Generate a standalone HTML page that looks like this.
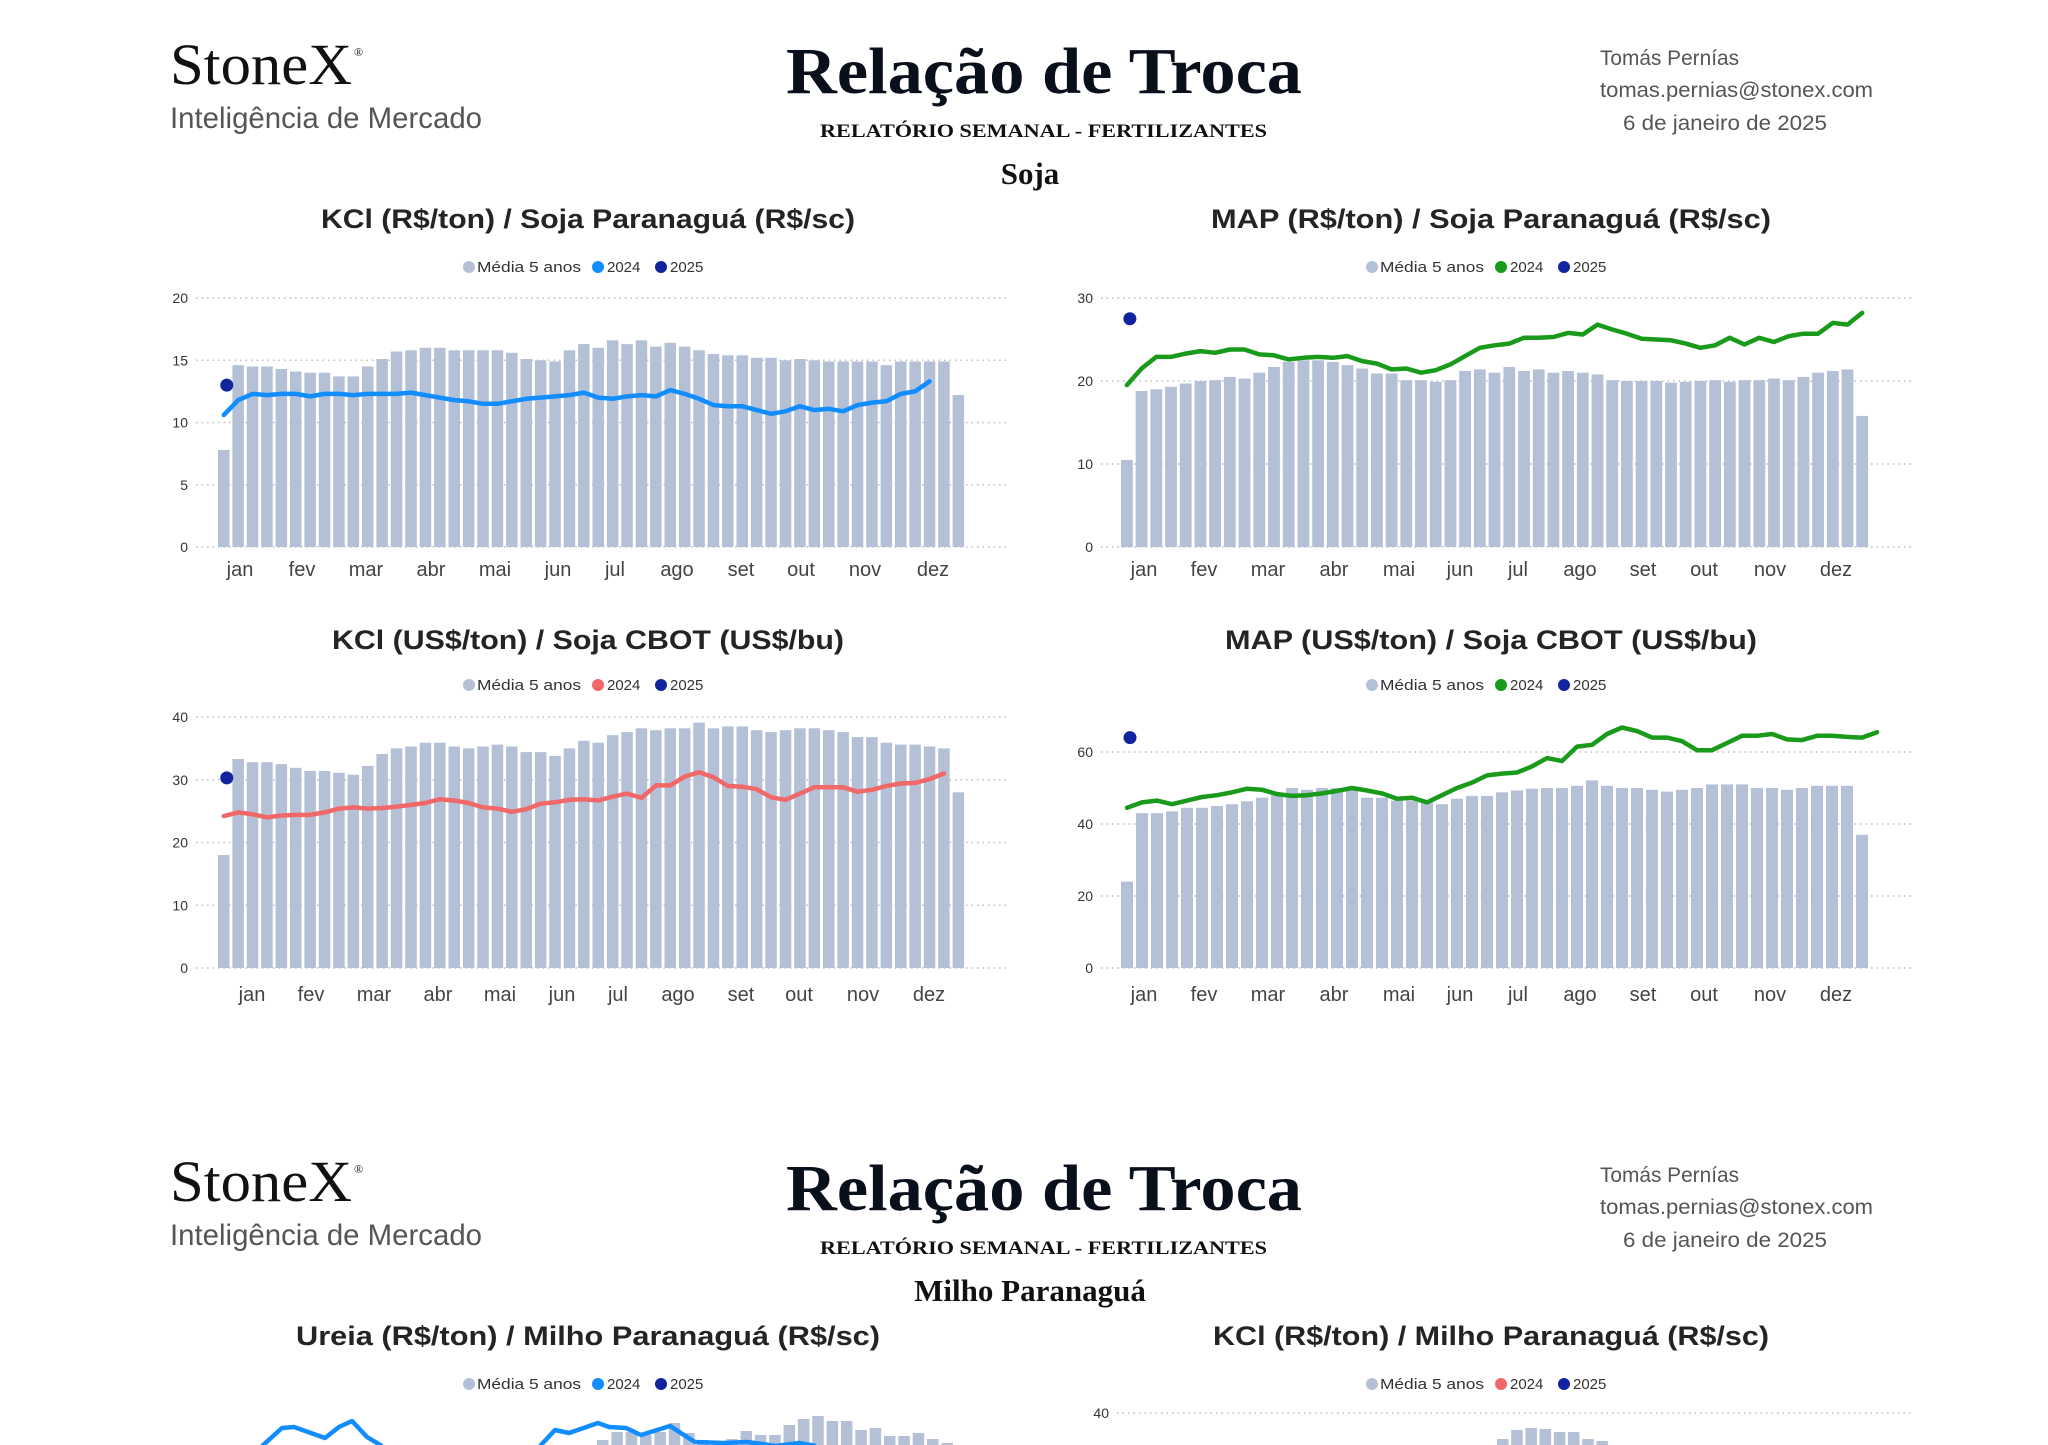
<!DOCTYPE html>
<html><head><meta charset="utf-8"><style>
html,body{margin:0;padding:0;background:#fff;}
svg{display:block;}
</style></head><body>
<svg id="s" width="2048" height="1445" xmlns="http://www.w3.org/2000/svg" font-family="Liberation Sans, sans-serif"></svg>
<script>
var S='';
function hdr(o,sub){
 S+='<text x="170" y="'+(84+o)+'" font-family="Liberation Serif, serif" font-size="58" fill="#111" textLength="182" lengthAdjust="spacingAndGlyphs">StoneX</text>';
 S+='<text x="354" y="'+(56+o)+'" font-family="Liberation Serif, serif" font-size="12" fill="#111">®</text>';
 S+='<text x="170" y="'+(128+o)+'" font-size="30" fill="#555" textLength="312" lengthAdjust="spacingAndGlyphs">Inteligência de Mercado</text>';
 S+='<text x="786" y="'+(93+o)+'" font-family="Liberation Serif, serif" font-weight="bold" font-size="66" fill="#0a0f1c" textLength="516" lengthAdjust="spacingAndGlyphs">Relação de Troca</text>';
 S+='<text x="820" y="'+(137+o)+'" font-family="Liberation Serif, serif" font-weight="bold" font-size="19" fill="#111" textLength="447" lengthAdjust="spacingAndGlyphs">RELATÓRIO SEMANAL - FERTILIZANTES</text>';
 S+='<text x="1030" y="'+(184+o)+'" text-anchor="middle" font-family="Liberation Serif, serif" font-weight="bold" font-size="31" fill="#111">'+sub+'</text>';
 S+='<text x="1600" y="'+(65+o)+'" font-size="21" fill="#555" textLength="139" lengthAdjust="spacingAndGlyphs">Tomás Pernías</text>';
 S+='<text x="1600" y="'+(97+o)+'" font-size="21" fill="#555" textLength="273" lengthAdjust="spacingAndGlyphs">tomas.pernias@stonex.com</text>';
 S+='<text x="1623" y="'+(130+o)+'" font-size="21" fill="#555" textLength="204" lengthAdjust="spacingAndGlyphs">6 de janeiro de 2025</text>';
}
function title(cx,y,t,w){S+='<text x="'+cx+'" y="'+y+'" text-anchor="middle" font-weight="bold" font-size="27" fill="#252423" textLength="'+w+'" lengthAdjust="spacingAndGlyphs">'+t+'</text>';}
function legend(cx,y,col){
 var x=cx-119;
 S+='<circle cx="'+x+'" cy="'+(y-5)+'" r="6" fill="#b3c0d6"/><text x="'+(x+8)+'" y="'+y+'" font-size="15" fill="#333" textLength="104" lengthAdjust="spacingAndGlyphs">Média 5 anos</text>';
 S+='<circle cx="'+(x+129)+'" cy="'+(y-5)+'" r="6" fill="'+col+'"/><text x="'+(x+138)+'" y="'+y+'" font-size="15" fill="#333">2024</text>';
 S+='<circle cx="'+(x+192)+'" cy="'+(y-5)+'" r="6" fill="#12239e"/><text x="'+(x+201)+'" y="'+y+'" font-size="15" fill="#333">2025</text>';
}
function chart(c){
 var sc=(c.yb-c.yt)/c.max;
 c.ticks.forEach(function(t){var y=c.yb-t*sc;
  S+='<line x1="'+c.gl+'" x2="'+c.gr+'" y1="'+y+'" y2="'+y+'" stroke="#bdbdbd" stroke-width="1.5" stroke-dasharray="1.5 4"/>';
  S+='<text x="'+(c.gl-8)+'" y="'+(y+5)+'" text-anchor="end" font-size="14" fill="#333">'+t+'</text>';});
 var n=c.bars.length,p=(c.br-c.bl)/n,w=p*0.8;
 c.bars.forEach(function(v,i){var h=v*sc;S+='<rect x="'+(c.bl+i*p).toFixed(1)+'" y="'+(c.yb-h).toFixed(1)+'" width="'+w.toFixed(1)+'" height="'+h.toFixed(1)+'" fill="#b3c0d6"/>';});
 var pts=c.line.map(function(v,i){return (c.bl+i*p+w/2).toFixed(1)+','+(c.yb-v*sc).toFixed(1);}).join(' ');
 S+='<polyline points="'+pts+'" fill="none" stroke="'+c.col+'" stroke-width="4.5" stroke-linejoin="round" stroke-linecap="round"/>';
 S+='<circle cx="'+(c.bl+w/2+3)+'" cy="'+(c.yb-c.dot*sc)+'" r="6.5" fill="#12239e"/>';
 var m=['jan','fev','mar','abr','mai','jun','jul','ago','set','out','nov','dez'];
 c.mx.forEach(function(x,i){S+='<text x="'+x+'" y="'+c.my+'" text-anchor="middle" font-size="20" fill="#444">'+m[i]+'</text>';});
}
hdr(0,'Soja');
title(588,228,'KCl (R$/ton) / Soja Paranaguá (R$/sc)',534);
title(1491,228,'MAP (R$/ton) / Soja Paranaguá (R$/sc)',560);
title(588,649,'KCl (US$/ton) / Soja CBOT (US$/bu)',512);
title(1491,649,'MAP (US$/ton) / Soja CBOT (US$/bu)',532);
legend(588,272,'#118dff');legend(1491,272,'#1a9a1a');legend(588,690,'#f06868');legend(1491,690,'#1a9a1a');
var m1=[240,302,366,431,495,558,615,677,741,801,865,933];
var m2=[1144,1204,1268,1334,1399,1460,1518,1580,1643,1704,1770,1836];
var m3=[252,311,374,438,500,562,618,678,741,799,863,929];
chart({gl:196,gr:1008,bl:218,br:967,yt:298,yb:547,max:20,ticks:[0,5,10,15,20],col:'#118dff',dot:13,my:576,mx:m1,
bars:[7.8,14.6,14.5,14.5,14.3,14.1,14.0,14.0,13.7,13.7,14.5,15.1,15.7,15.8,16,16,15.8,15.8,15.8,15.8,15.6,15.1,15,14.9,15.8,16.3,16,16.6,16.3,16.6,16.1,16.4,16.1,15.8,15.5,15.4,15.4,15.2,15.2,15,15.1,15,14.9,14.9,14.9,14.9,14.6,14.9,14.9,14.9,14.9,12.2],
line:[10.6,11.8,12.3,12.2,12.3,12.3,12.1,12.3,12.3,12.2,12.3,12.3,12.3,12.4,12.2,12.0,11.8,11.7,11.5,11.5,11.7,11.9,12.0,12.1,12.2,12.4,12.0,11.9,12.1,12.2,12.1,12.6,12.3,11.9,11.4,11.3,11.3,11.0,10.7,10.9,11.3,11.0,11.1,10.9,11.4,11.6,11.7,12.3,12.5,13.3]});
chart({gl:1101,gr:1913,bl:1121,br:1871,yt:298,yb:547,max:30,ticks:[0,10,20,30],col:'#1a9a1a',dot:27.5,my:576,mx:m2,
bars:[10.5,18.8,19.0,19.3,19.7,20.0,20.1,20.5,20.3,21.0,21.7,22.3,22.5,22.5,22.3,21.9,21.5,20.9,20.9,20.1,20.1,19.9,20.1,21.2,21.4,21.0,21.7,21.2,21.4,21.0,21.2,21.0,20.8,20.1,20.0,20.0,20.0,19.8,19.9,20.0,20.1,19.9,20.1,20.1,20.3,20.1,20.5,21.0,21.2,21.4,15.8],
line:[19.5,21.5,22.9,22.9,23.3,23.6,23.4,23.8,23.8,23.2,23.1,22.6,22.8,22.9,22.8,23.0,22.4,22.1,21.4,21.5,21.0,21.3,22.0,23.0,24.0,24.3,24.5,25.2,25.2,25.3,25.8,25.6,26.8,26.2,25.7,25.1,25.0,24.9,24.5,24.0,24.3,25.2,24.4,25.2,24.7,25.4,25.7,25.7,27.0,26.8,28.2]});
chart({gl:196,gr:1008,bl:218,br:967,yt:717,yb:968,max:40,ticks:[0,10,20,30,40],col:'#f06868',dot:30.3,my:1001,mx:m3,
bars:[18,33.3,32.8,32.8,32.5,31.9,31.4,31.4,31.1,30.8,32.2,34.1,35,35.3,35.9,35.9,35.3,35,35.3,35.6,35.3,34.4,34.4,33.8,35,36.2,35.9,37.1,37.6,38.2,37.9,38.2,38.2,39.1,38.2,38.5,38.5,37.9,37.6,37.9,38.2,38.2,37.9,37.6,36.8,36.8,35.9,35.6,35.6,35.3,35,28],
line:[24.2,24.8,24.5,24,24.3,24.4,24.4,24.8,25.4,25.6,25.4,25.5,25.7,26,26.3,26.9,26.7,26.3,25.6,25.4,24.9,25.3,26.2,26.4,26.8,26.9,26.7,27.3,27.8,27.1,29.1,29.1,30.5,31.2,30.4,29,28.9,28.5,27.2,26.8,27.8,28.8,28.8,28.8,28.1,28.4,29,29.4,29.5,30.1,31]});
chart({gl:1101,gr:1913,bl:1121,br:1871,yt:716,yb:968,max:70,ticks:[0,20,40,60],col:'#1a9a1a',dot:64,my:1001,mx:m2,
bars:[24,43,43,43.5,44.5,44.5,45,45.5,46.3,47.3,48,50,49.5,50,50,49.5,47.3,47.3,46.5,46.5,46.5,45.5,47,47.8,47.8,48.8,49.3,49.8,50,50,50.6,52.1,50.6,50,50,49.5,49,49.5,50,51,51,51,50,50,49.5,50,50.6,50.6,50.6,37],
line:[44.5,46,46.5,45.5,46.5,47.5,48,48.8,49.8,49.5,48.3,47.8,48,48.5,49.2,50,49.3,48.5,47,47.3,46,48,50,51.5,53.5,54,54.3,56,58.3,57.5,61.5,62,65,66.8,65.8,64,64,63,60.5,60.5,62.5,64.5,64.5,65,63.5,63.3,64.5,64.5,64.2,64,65.5]});
hdr(1117,'Milho Paranaguá');
title(588,1345,'Ureia (R$/ton) / Milho Paranaguá (R$/sc)',584);
title(1491,1345,'KCl (R$/ton) / Milho Paranaguá (R$/sc)',556);
legend(588,1389,'#118dff');legend(1491,1389,'#f06868');
S+='<line x1="1117" x2="1913" y1="1413" y2="1413" stroke="#bdbdbd" stroke-width="1.5" stroke-dasharray="1.5 4"/>';
S+='<text x="1109" y="1418" text-anchor="end" font-size="14" fill="#333">40</text>';
[1439,1430,1428,1429,1432,1432,1439,1441].forEach(function(t,i){S+='<rect x="'+(1497+i*14.2)+'" y="'+t+'" width="11.5" height="'+(1445-t)+'" fill="#b3c0d6"/>';});
[1440,1432,1432,1435,1432,1423,1433,1440,1445,1439,1431,1435,1435,1425,1419,1416,1421,1421,1430,1428,1436,1436,1433,1439,1443].forEach(function(t,i){S+='<rect x="'+(597+i*14.35)+'" y="'+t+'" width="11.5" height="'+(1445-t)+'" fill="#b3c0d6"/>';});
S+='<polyline points="262,1446 282,1428 294,1427 325,1438 339,1427 352,1421 367,1437 382,1446" fill="none" stroke="#118dff" stroke-width="4.5" stroke-linejoin="round"/>';
S+='<polyline points="540,1446 555,1430 569,1433 598,1423 609,1427 626,1428 641,1435 670,1426 687,1437 695,1442 724,1443 747,1442 776,1446 799,1443 816,1446" fill="none" stroke="#118dff" stroke-width="4.5" stroke-linejoin="round"/>';
document.getElementById('s').innerHTML=S;
</script>
</body></html>
